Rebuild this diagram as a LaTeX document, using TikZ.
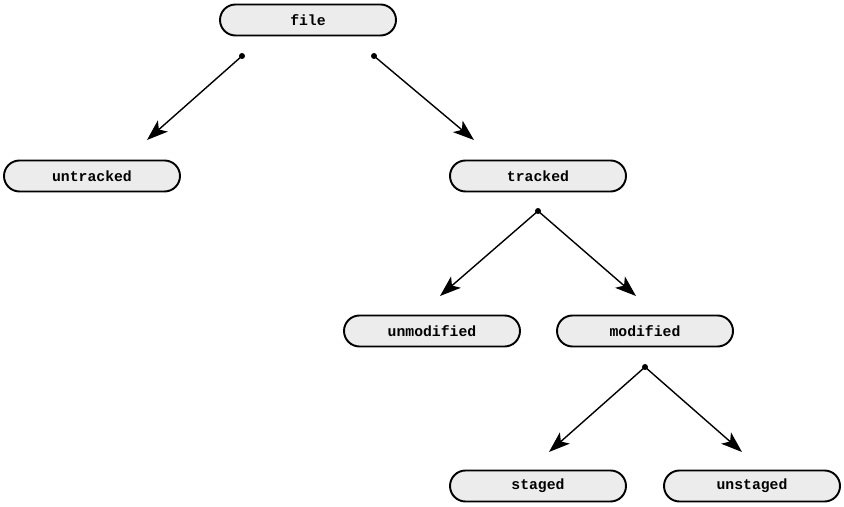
\documentclass[tikz,border=0pt]{standalone}
\usepackage{fontspec}
\setmonofont{Liberation Mono}
\usepackage{tikz}
\usetikzlibrary{positioning, arrows.meta}
\definecolor{boxgray}{RGB}{236,236,236}

\begin{document}
\begin{tikzpicture}[
  state/.style={draw, rounded corners=0.31cm, line width=1.1pt, minimum width=3.52cm, minimum height=0.62cm, fill=boxgray, font=\ttfamily\bfseries\fontsize{8.4}{10}\selectfont},
  arr/.style={-{Stealth[length=12pt, width=8.5pt, inset=3pt]}, line width=0.8pt},
  dot/.style={circle, fill, inner sep=0pt, minimum size=0.12cm}]
  \useasboundingbox (0,0) rectangle (16.88,-10.14);
  % states
  \node[state] (file) at (6.16,-0.40) {file};
  \node[state] (untracked) at (1.84,-3.52) {untracked};
  \node[state] (tracked) at (10.76,-3.52) {tracked};
  \node[state] (unmodified) at (8.64,-6.62) {unmodified};
  \node[state] (modified) at (12.90,-6.62) {modified};
  \node[state] (staged) at (10.76,-9.72) {staged};
  \node[state] (unstaged) at (15.04,-9.72) {unstaged};
  % branch points
  \node[dot] (file-l) at (4.84,-1.12) {};
  \node[dot] (file-r) at (7.48,-1.12) {};
  \node[dot] (tracked-d) at (10.76,-4.22) {};
  \node[dot] (modified-d) at (12.90,-7.34) {};
  % arrow ends
  \coordinate (untracked-in) at (2.94,-2.80);
  \coordinate (tracked-in) at (9.48,-2.80);
  \coordinate (unmodified-in) at (8.80,-5.92);
  \coordinate (modified-in) at (12.72,-5.92);
  \coordinate (staged-in) at (10.98,-9.04);
  \coordinate (unstaged-in) at (14.84,-9.04);
  \draw[arr] (file-l.center) -- (untracked-in);
  \draw[arr] (file-r.center) -- (tracked-in);
  \draw[arr] (tracked-d.center) -- (unmodified-in);
  \draw[arr] (tracked-d.center) -- (modified-in);
  \draw[arr] (modified-d.center) -- (staged-in);
  \draw[arr] (modified-d.center) -- (unstaged-in);
\end{tikzpicture}
\end{document}
